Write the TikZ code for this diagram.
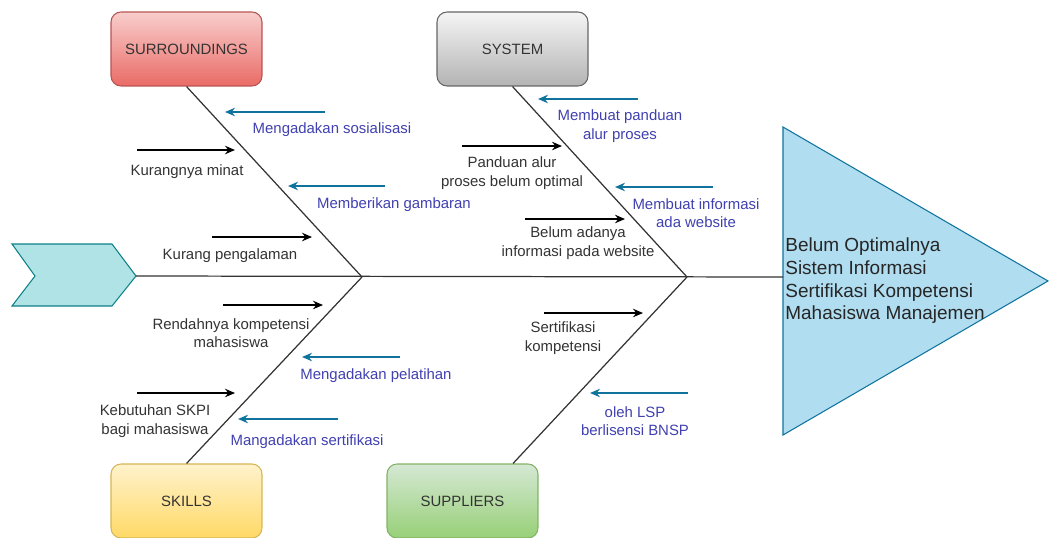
\documentclass[tikz,border=0pt]{standalone}
\usepackage{fontspec}
\setmainfont{Liberation Sans}
\usetikzlibrary{arrows.meta,calc}

\definecolor{howtext}{RGB}{64,64,176}
\definecolor{howline}{RGB}{16,115,158}
\definecolor{tailfill}{RGB}{176,227,230}
\definecolor{tailline}{RGB}{14,128,136}
\definecolor{headfill}{RGB}{177,221,240}
\definecolor{headline}{RGB}{16,115,158}

\begin{document}
\begin{tikzpicture}[x=0.02cm,y=-0.02cm,
  bone/.style={line width=0.7pt,draw=black!80},
  cat/.style={draw,rounded corners=0.2cm,minimum width=3.02cm,minimum height=1.48cm,
    line width=0.6pt,font=\fontsize{8.5}{10.5}\selectfont,text=black!80},
  cause/.style={-{Stealth[length=0.2cm,width=0.17cm]},line width=0.8pt},
  fix/.style={-{Stealth[length=0.2cm,width=0.17cm]},line width=0.8pt,draw=howline},
  why/.style={align=center,font=\fontsize{8.5}{10.5}\selectfont,text=black!80,inner sep=0pt},
  how/.style={why,text=howtext}]
\useasboundingbox (0,0) rectangle (1050,537);

% tail and head of the fish
\draw[fill=tailfill,draw=tailline,line width=0.6pt] (12,244) -- (112,244) -- (136,276)
  -- (112,306) -- (12,306) -- (35,276) -- cycle;
\coordinate (tail) at (136,276);
\draw[fill=headfill,draw=headline,line width=0.6pt] (783,127) -- (1048,281) -- (783,435) -- cycle;
\coordinate (head) at (783,277);
\node[anchor=west,align=left,inner sep=0pt,text=black!85,font=\fontsize{10.8}{12.9}\selectfont]
  (problem) at (785,281) {Belum Optimalnya\\Sistem Informasi\\Sertifikasi Kompetensi\\Mahasiswa Manajemen};

% categories
\node[cat,top color={rgb,255:red,248;green,206;blue,204},bottom color={rgb,255:red,234;green,107;blue,102},
  draw={rgb,255:red,184;green,84;blue,80}] (surr) at (186.5,49) {SURROUNDINGS};
\node[cat,top color={rgb,255:red,245;green,245;blue,245},bottom color={rgb,255:red,179;green,179;blue,179},
  draw={rgb,255:red,102;green,102;blue,102}] (sys) at (512.5,49) {SYSTEM};
\node[cat,top color={rgb,255:red,255;green,242;blue,204},bottom color={rgb,255:red,255;green,217;blue,102},
  draw={rgb,255:red,214;green,182;blue,86}] (skills) at (186.5,501) {SKILLS};
\node[cat,top color={rgb,255:red,213;green,232;blue,212},bottom color={rgb,255:red,151;green,208;blue,119},
  draw={rgb,255:red,130;green,179;blue,102}] (supp) at (462.5,501) {SUPPLIERS};

% spine and bones
\coordinate (jl) at (362,277);
\coordinate (jr) at (687,277);
\draw[bone] (tail) -- (head);
\draw[bone] (surr.south) -- (jl);
\draw[bone] (skills.north) -- (jl);
\draw[bone] (sys.south) -- (jr);
\draw[bone] ($(supp.north)+(50.5,0)$) -- (jr);

% causes
\draw[cause] (137,150) -- (235,150);
\node[why] (minat) at (187,172) {Kurangnya minat};
\draw[cause] (212,237) -- (312,237);
\node[why] (alam) at (230,256) {Kurang pengalaman};
\draw[cause] (223,305) -- (323,305);
\node[why] (komp) at (231,333) {Rendahnya kompetensi\\mahasiswa};
\draw[cause] (137,393) -- (235,393);
\node[why] (skpi) at (155,421) {Kebutuhan SKPI\\bagi mahasiswa};
\draw[cause] (462,146) -- (562,146);
\node[why] (alur) at (512,173) {Panduan alur\\proses belum optimal};
\draw[cause] (525,219) -- (625,219);
\node[why] (web) at (578,243) {Belum adanya\\informasi pada website};
\draw[cause] (544,313) -- (643,313);
\node[why] (sert) at (563,338) {Sertifikasi\\kompetensi};

% solutions
\draw[fix] (325,112) -- (225,112);
\node[how] (sosial) at (332,130) {Mengadakan sosialisasi};
\draw[fix] (385,186) -- (288,186);
\node[how] (gambar) at (394,205) {Memberikan gambaran};
\draw[fix] (400,357) -- (302,357);
\node[how] (latih) at (376,376) {Mengadakan pelatihan};
\draw[fix] (338,419) -- (238,419);
\node[how] (sertif) at (307,442) {Mangadakan sertifikasi};
\draw[fix] (638,99) -- (538,99);
\node[how] (panduan) at (620,126) {Membuat panduan\\alur proses};
\draw[fix] (713,187) -- (615,187);
\node[how] (info) at (696,213) {Membuat informasi\\ada website};
\draw[fix] (688,393) -- (590,393);
\node[how] (lsp) at (635,421) {oleh LSP\\berlisensi BNSP};
\end{tikzpicture}
\end{document}
